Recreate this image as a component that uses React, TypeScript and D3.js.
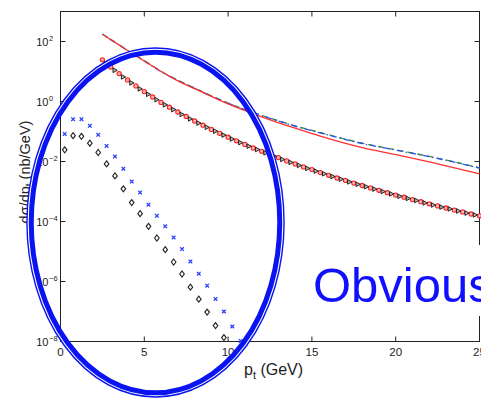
import React from 'react';
import * as d3 from 'd3';

const W = 481;
const H = 399;
const FONT = '"Liberation Sans", Arial, Helvetica, sans-serif';

// axis ticks
const PT_TICKS = [0, 5, 10, 15, 20, 25];
const Y_TICK_EXPONENTS = [2, 0, -2, -4, -6, -8];

// theory curves, log10(dσ/dpt) at the listed pt values
const CURVE_PT = [2.5, 3, 4, 5, 6, 7, 8, 9, 10, 12, 14, 16, 18, 20, 22, 25];
const RED_CURVE = [2.24, 2.06, 1.70, 1.35, 1.00, 0.69, 0.43, 0.17, -0.08, -0.51, -0.89, -1.24, -1.54, -1.77, -2.01, -2.41];
const BLUE_CURVE = [2.24, 2.06, 1.70, 1.35, 1.00, 0.70, 0.44, 0.18, -0.06, -0.47, -0.82, -1.12, -1.40, -1.62, -1.84, -2.22];
const GREEN_CURVE = [2.25, 2.07, 1.71, 1.36, 1.01, 0.71, 0.45, 0.19, -0.05, -0.46, -0.81, -1.11, -1.39, -1.61, -1.83, -2.21];

// high-pt points (red circles and black triangles), log10 values
const CIRCLE_PT = d3.range(2.5, 25.001, 0.5);
const CIRCLE_VAL = [
  1.39, 1.15, 0.93, 0.72, 0.52, 0.33, 0.15, -0.03, -0.19, -0.35,
  -0.50, -0.65, -0.79, -0.93, -1.06, -1.19, -1.31, -1.43, -1.55, -1.66,
  -1.77, -1.87, -1.98, -2.08, -2.18, -2.27, -2.37, -2.46, -2.55, -2.63,
  -2.72, -2.80, -2.88, -2.96, -3.04, -3.12, -3.19, -3.27, -3.34, -3.41,
  -3.48, -3.55, -3.62, -3.68, -3.75, -3.81,
];
const TRIANGLE_PT = d3.range(2.75, 24.76, 0.5);
const TRIANGLE_VAL = [
  1.27, 1.04, 0.82, 0.62, 0.42, 0.24, 0.06, -0.11, -0.27, -0.43,
  -0.58, -0.72, -0.86, -0.99, -1.12, -1.25, -1.37, -1.49, -1.60, -1.71,
  -1.82, -1.93, -2.03, -2.13, -2.23, -2.32, -2.41, -2.50, -2.59, -2.68,
  -2.76, -2.84, -2.92, -3.00, -3.08, -3.16, -3.23, -3.30, -3.38, -3.45,
  -3.52, -3.58, -3.65, -3.72, -3.78,
];

// low-pt points (blue crosses and black diamonds), log10 values
const CROSS_PT = d3.range(0.25, 10.76, 0.5);
const CROSS_VAL = [
  -1.08, -0.59, -0.59, -0.81, -1.11, -1.48, -1.83, -2.24, -2.67, -3.03,
  -3.44, -3.81, -4.16, -4.53, -4.92, -5.33, -5.74, -6.14, -6.58, -7.00,
  -7.50, -7.98,
];
const DIAMOND_PT = d3.range(0.25, 9.76, 0.5);
const DIAMOND_VAL = [
  -1.61, -1.14, -1.16, -1.39, -1.70, -2.08, -2.48, -2.91, -3.37, -3.74,
  -4.16, -4.55, -4.94, -5.35, -5.75, -6.19, -6.59, -7.02, -7.47, -7.87,
];

const x = d3.scaleLinear().domain([0, 25]).range([60.5, 479.5]);
const y = d3.scaleLog().domain([1e-8, 1e3]).range([341.5, 11.5]);

const curve = (vals: number[]) =>
  d3
    .line<number>()
    .x((_, i) => x(CURVE_PT[i]))
    .y((v) => y(Math.pow(10, v)))
    .curve(d3.curveMonotoneX)(vals) as string;

const pts = (pt: number[], vals: number[]) =>
  vals.map((v, i) => [x(pt[i]), y(Math.pow(10, v))] as [number, number]);

export default function App() {
  const left = x(0);
  const right = x(25);
  const top = y(1e3);
  const bottom = y(1e-8);

  return (
    <svg
      width={W}
      height={H}
      style={{ position: 'absolute', left: 0, top: 0, background: '#fff' }}
      fontFamily={FONT}
    >
      <rect x={0} y={0} width={W} height={H} fill="#fff" />

      {/* frame */}
      <rect x={left} y={top} width={right - left} height={bottom - top} fill="none" stroke="#222" strokeWidth={1} />

      {/* x ticks, bottom and top */}
      {PT_TICKS.map((t) => (
        <g key={'xt' + t}>
          <line x1={x(t)} x2={x(t)} y1={bottom} y2={bottom - 5} stroke="#222" />
          <line x1={x(t)} x2={x(t)} y1={top} y2={top + 5} stroke="#222" />
          <text x={x(t)} y={bottom + 14} fontSize={11.5} textAnchor="middle" fill="#222">
            {t}
          </text>
        </g>
      ))}

      {/* y ticks, left and right */}
      {Y_TICK_EXPONENTS.map((e) => {
        const yy = y(Math.pow(10, e));
        return (
          <g key={'yt' + e}>
            <line x1={left} x2={left + 5} y1={yy} y2={yy} stroke="#222" />
            <line x1={right} x2={right - 5} y1={yy} y2={yy} stroke="#222" />
            <text x={48.5} y={yy + 4} fontSize={11} textAnchor="end" fill="#222">
              10
            </text>
            <text x={49} y={yy - 1} fontSize={7.5} fill="#222">
              {e < 0 ? '\u2212' + Math.abs(e) : e}
            </text>
          </g>
        );
      })}

      {/* axis titles */}
      <text x={244} y={375} fontSize={16} fill="#222">
        p<tspan dy={4} fontSize={11}>t</tspan>
        <tspan dy={-4}> (GeV)</tspan>
      </text>
      <text transform="translate(30,172) rotate(-90)" fontSize={14.5} textAnchor="middle" fill="#222">
        dσ/dp<tspan dy={3} fontSize={10}>t</tspan>
        <tspan dy={-3}> (nb/GeV)</tspan>
      </text>

      {/* theory curves */}
      <path d={curve(GREEN_CURVE)} fill="none" stroke="#2f8a3a" strokeWidth={1.3} strokeDasharray="6 4" />
      <path d={curve(BLUE_CURVE)} fill="none" stroke="#3050f0" strokeWidth={1.3} strokeDasharray="6 3 1.5 3" strokeDashoffset={5} />
      <path d={curve(RED_CURVE)} fill="none" stroke="#ff3030" strokeWidth={1.3} />

      {/* red circles */}
      {pts(CIRCLE_PT, CIRCLE_VAL).map(([cx, cy], i) => (
        <circle key={'c' + i} cx={cx} cy={cy} r={2.1} fill="#ffb0b0" stroke="#ff2020" strokeWidth={1.1} />
      ))}
      {/* black triangles */}
      {pts(TRIANGLE_PT, TRIANGLE_VAL).map(([cx, cy], i) => (
        <path
          key={'t' + i}
          d={`M${cx - 2},${cy - 2.3}L${cx + 2.3},${cy}L${cx - 2},${cy + 2.3}Z`}
          fill="#bbb"
          stroke="#111"
          strokeWidth={0.9}
        />
      ))}

      {/* blue crosses */}
      {pts(CROSS_PT, CROSS_VAL).map(([cx, cy], i) => (
        <path
          key={'x' + i}
          d={`M${cx - 1.8},${cy - 1.8}L${cx + 1.8},${cy + 1.8}M${cx - 1.8},${cy + 1.8}L${cx + 1.8},${cy - 1.8}`}
          stroke="#2a40ff"
          strokeWidth={1.3}
          fill="none"
        />
      ))}
      {/* black diamonds */}
      {pts(DIAMOND_PT, DIAMOND_VAL).map(([cx, cy], i) => (
        <path
          key={'d' + i}
          d={`M${cx},${cy - 3}L${cx + 2.3},${cy}L${cx},${cy + 3}L${cx - 2.3},${cy}Z`}
          fill="none"
          stroke="#222"
          strokeWidth={1.1}
        />
      ))}

      {/* highlight ellipse around the low-pt points */}
      <ellipse cx={155.5} cy={222.5} rx={125.5} ry={171.5} fill="none" stroke="#0a14f0" strokeWidth={7.5} />
      <ellipse cx={155.5} cy={222.5} rx={127.3} ry={173.3} fill="none" stroke="#fff" strokeWidth={1.1} />

      {/* annotation */}
      <rect x={300} y={245} width={190} height={71} fill="#fff" />
      <text x={313} y={301.7} fontSize={49} fill="#1010ff">
        Obvious
      </text>
    </svg>
  );
}
